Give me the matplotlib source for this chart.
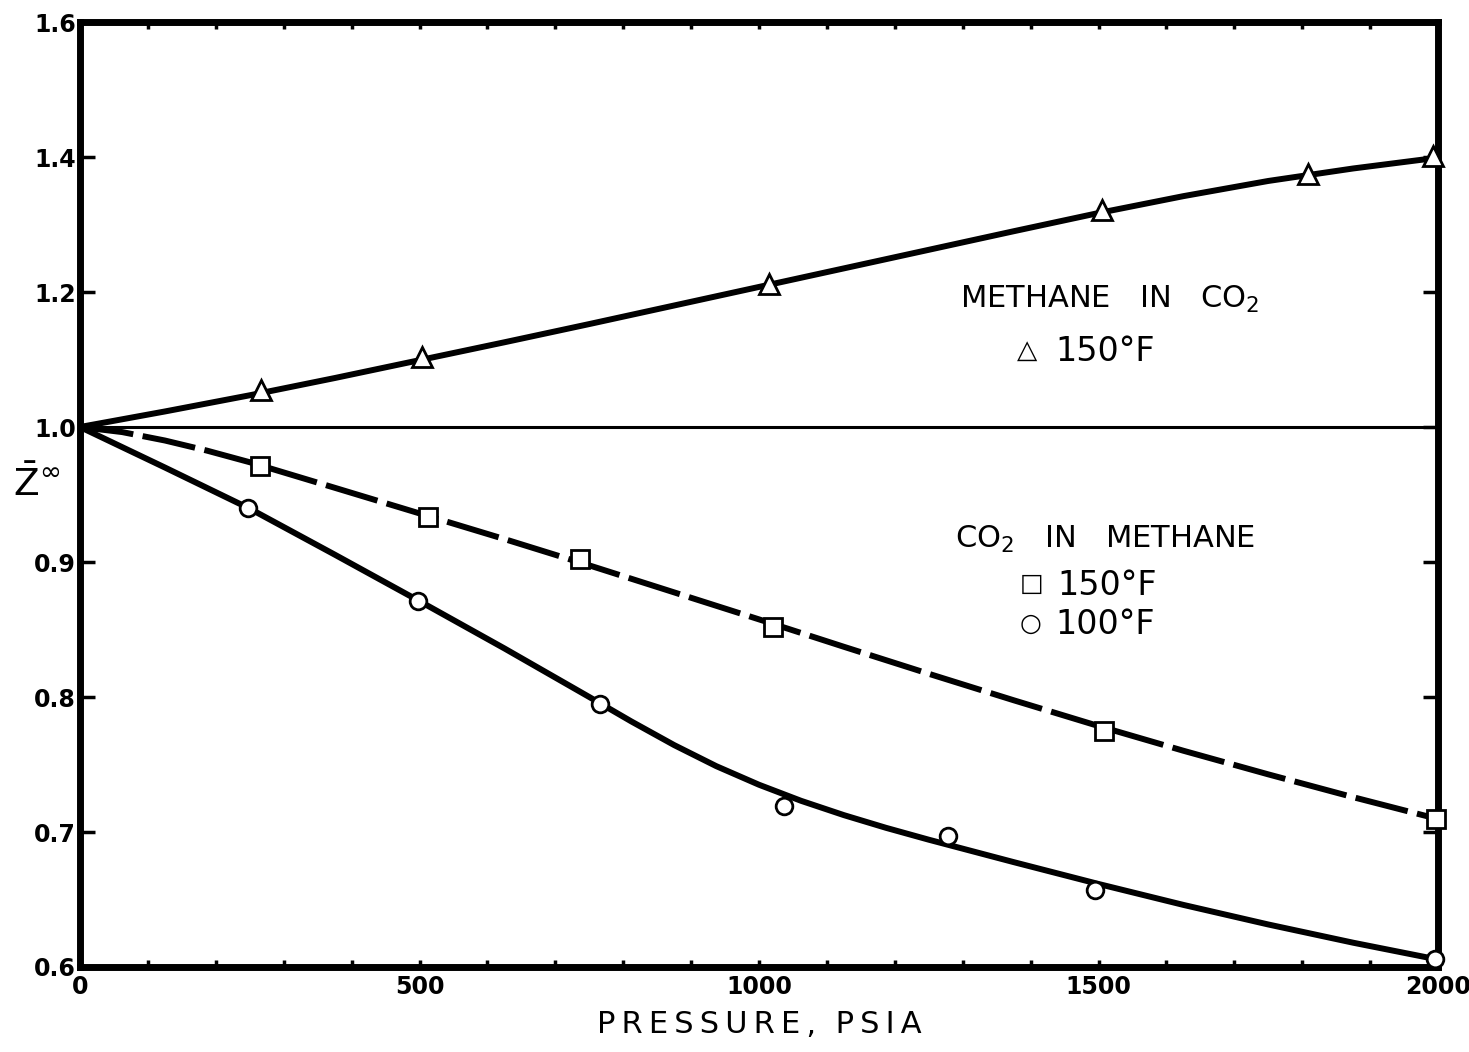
import numpy as np
from matplotlib import pyplot as plt

plt.rcParams['mathtext.default'] = 'regular'

# 实验点：压力 (psia) 与 Z∞
p_ch4_150 = [266, 504, 1015, 1505, 1808, 1993]
z_ch4_150 = [1.055, 1.104, 1.212, 1.321, 1.375, 1.401]

p_co2_150 = [265, 512, 736, 1021, 1508, 1997]
z_co2_150 = [0.971, 0.933, 0.902, 0.852, 0.775, 0.710]

p_co2_100 = [247, 498, 766, 1037, 1278, 1495, 1996]
z_co2_100 = [0.940, 0.871, 0.795, 0.719, 0.697, 0.657, 0.606]

# 手绘的光滑曲线
cp_ch4 = [0, 125, 250, 375, 500, 625, 750, 875, 1000,
          1125, 1250, 1375, 1500, 1625, 1750, 1875, 2000]
cz_ch4 = [1.0, 1.023, 1.047, 1.0725, 1.099, 1.1255, 1.1525, 1.180, 1.2075,
          1.235, 1.2625, 1.290, 1.317, 1.342, 1.3645, 1.383, 1.399]

cp_150 = [0, 62, 125, 187, 250, 375, 500, 625, 750, 875, 1000,
          1125, 1250, 1375, 1500, 1625, 1750, 1875, 2000]
cz_150 = [1.0, 0.99625, 0.990, 0.9825, 0.9739, 0.955, 0.936, 0.917, 0.8975,
          0.8775, 0.8575, 0.8372, 0.8172, 0.7976, 0.7785, 0.7602, 0.7427,
          0.7258, 0.7096]

cp_100 = [0, 125, 250, 375, 500, 625, 750, 812, 875, 937, 1000, 1062,
          1125, 1187, 1250, 1375, 1500, 1625, 1750, 1875, 2000]
cz_100 = [1.0, 0.970, 0.9395, 0.9055, 0.871, 0.836, 0.800, 0.7819, 0.7644,
          0.7488, 0.735, 0.7231, 0.7125, 0.7031, 0.6943, 0.6777, 0.6615,
          0.646, 0.6315, 0.618, 0.6055]

y_ticks = [0.6, 0.7, 0.8, 0.9, 1.0, 1.2, 1.4, 1.6]
y_tick_labels = ['0.6', '0.7', '0.8', '0.9', '1.0', '1.2', '1.4', '1.6']
x_ticks = [0, 500, 1000, 1500, 2000]


# 1.0 以上每格 0.2，以下每格 0.1
def fwd(y):
    y = np.asarray(y, dtype=float)
    return np.where(y > 1.0, 1.0 + (y - 1.0) / 2.0, y)


def inv(v):
    v = np.asarray(v, dtype=float)
    return np.where(v > 1.0, 1.0 + (v - 1.0) * 2.0, v)


fig = plt.figure(figsize=(14.69, 10.52), dpi=100)
ax = fig.add_axes([80 / 1469, 85 / 1052, 1358 / 1469, 945 / 1052])
ax.set_yscale('function', functions=(fwd, inv))
ax.set_xlim(0, 2000)
ax.set_ylim(0.6, 1.6)

ax.axhline(1.0, color='black', lw=2.2, zorder=2)

ax.plot(cp_ch4, cz_ch4, color='black', lw=4.3, solid_capstyle='round',
        solid_joinstyle='round', zorder=3)
ax.plot(cp_150, cz_150, color='black', lw=4.3, dash_capstyle='butt',
        dash_joinstyle='round', dashes=(9, 1.6), zorder=3)
ax.plot(cp_100, cz_100, color='black', lw=4.3, solid_capstyle='round',
        solid_joinstyle='round', zorder=3)

mk = dict(ls='none', mfc='white', mec='black', mew=2.0, clip_on=False, zorder=5)
ax.plot(p_ch4_150, z_ch4_150, marker='^', ms=14, **mk)
ax.plot(p_co2_150, z_co2_150, marker='s', ms=12.5, **mk)
ax.plot(p_co2_100, z_co2_100, marker='o', ms=12, **mk)

# 坐标轴
for s in ax.spines.values():
    s.set_linewidth(5)
ax.set_yticks(y_ticks)
ax.set_yticklabels(y_tick_labels)
ax.yaxis.set_minor_locator(plt.NullLocator())
ax.set_xticks(x_ticks)
ax.set_xticks(np.arange(0, 2001, 100), minor=True)
ax.tick_params(axis='y', which='major', direction='in', length=11, width=2.5,
               left=True, right=True, labelsize=17, pad=3)
ax.tick_params(axis='x', which='both', direction='in', length=5, width=2.5,
               top=True, bottom=True, labelsize=17, pad=6)
for lab in ax.get_xticklabels() + ax.get_yticklabels():
    lab.set_fontweight('bold')

ts = '\u2009'
ax.set_xlabel(ts.join('PRESSURE,') + '  ' + ts.join('PSIA'), fontsize=22, labelpad=8)

# 纵轴符号 Z̄∞
ax.text(-0.032, 0.51, r'$\bar{Z}^{\infty}$', transform=ax.transAxes,
        fontsize=27, ha='center', va='center')

# 图注
ax.text(0.648, 0.706, 'METHANE   IN   CO$_2$', transform=ax.transAxes,
        fontsize=22, va='center')
ax.text(0.690, 0.652, '\u25B3', transform=ax.transAxes, fontsize=19, va='center')
ax.text(0.718, 0.651, '150°F', transform=ax.transAxes, fontsize=24, va='center')

ax.text(0.644, 0.452, 'CO$_2$   IN   METHANE', transform=ax.transAxes,
        fontsize=22, va='center')
ax.text(0.692, 0.405, '\u25A1', transform=ax.transAxes, fontsize=18, va='center')
ax.text(0.720, 0.404, '150°F', transform=ax.transAxes, fontsize=24, va='center')
ax.text(0.692, 0.363, '\u25CB', transform=ax.transAxes, fontsize=18, va='center')
ax.text(0.718, 0.362, '100°F', transform=ax.transAxes, fontsize=24, va='center')

plt.savefig('out.png', dpi=100)
